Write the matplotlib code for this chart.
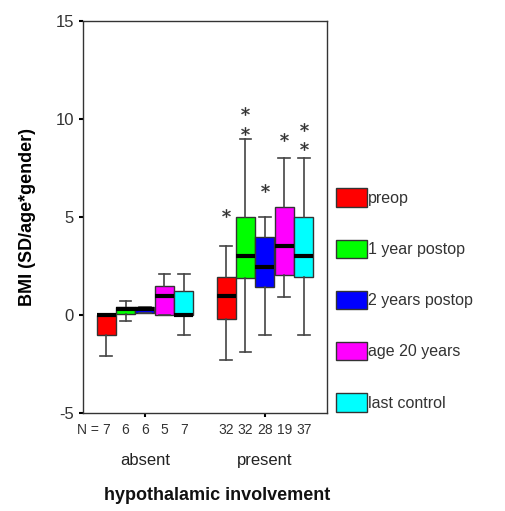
import matplotlib
matplotlib.use("Agg")
import matplotlib.pyplot as plt
from matplotlib.patches import Patch
import matplotlib.transforms as mtransforms

plt.rcParams['font.family'] = ['Liberation Sans', 'DejaVu Sans']
plt.rcParams['axes.unicode_minus'] = False

groups = ['absent', 'present']
series = ['preop', '1 year postop', '2 years postop', 'age 20 years', 'last control']
colors = ['#ff0000', '#00ff00', '#0000ff', '#ff00ff', '#00ffff']

# per series: [absent, present]
whislo = [[-2.1, -2.3], [-0.3, -1.9], [0.1, -1.05], [0.0, 0.9], [-1.05, -1.05]]
q1 = [[-1.05, -0.2], [0.05, 1.9], [0.1, 1.4], [0.0, 2.05], [0.0, 1.95]]
med = [[0.0, 0.95], [0.3, 3.0], [0.3, 2.45], [0.95, 3.5], [0.0, 3.0]]
q3 = [[0.0, 1.95], [0.4, 5.0], [0.4, 4.0], [1.45, 5.5], [1.2, 5.0]]
whishi = [[0.0, 3.5], [0.7, 9.0], [0.4, 5.0], [2.1, 8.0], [2.1, 8.0]]
outliers = [[[], [5.2]], [[], [9.4, 10.4]], [[], [6.5]], [[], [9.1]], [[], [8.6, 9.6]]]
n_counts = [[7, 32], [6, 32], [6, 28], [5, 19], [7, 37]]

fig = plt.figure(figsize=(5.06, 5.11), dpi=100)
ax = fig.add_axes([0.164, 0.192, 0.482, 0.767])

width = 0.162
offsets = [-2 * width, -width, 0, width, 2 * width]
trans = mtransforms.blended_transform_factory(ax.transData, ax.transAxes)

for s in range(len(series)):
    stats = []
    positions = []
    for g in range(len(groups)):
        stats.append(dict(whislo=whislo[s][g], q1=q1[s][g], med=med[s][g],
                          q3=q3[s][g], whishi=whishi[s][g], fliers=outliers[s][g]))
        positions.append(g + 1 + offsets[s])
    ax.bxp(stats, positions=positions, widths=width * 0.98, showfliers=True,
           patch_artist=True, capwidths=width * 0.6,
           boxprops=dict(facecolor=colors[s], edgecolor='#333333', linewidth=1.0),
           medianprops=dict(color='black', linewidth=3),
           whiskerprops=dict(color='#444444', linewidth=1.2),
           capprops=dict(color='#444444', linewidth=1.2),
           flierprops=dict(marker='$*$', markersize=6, markeredgewidth=0.3,
                           color='#333333', markerfacecolor='#333333',
                           markeredgecolor='#333333'))
    for g in range(len(groups)):
        ax.text(g + 1 + offsets[s], -0.043, str(n_counts[s][g]), transform=trans,
                ha='center', va='center', fontsize=10, color='#333333')

ax.text(1 + offsets[0] - 0.06, -0.043, 'N =', transform=trans, ha='right',
        va='center', fontsize=10, color='#333333')
for g, name in enumerate(groups):
    ax.text(g + 1, -0.122, name, transform=trans, ha='center', va='center',
            fontsize=12, color='#222222')

ax.set_xlim(0.483, 2.517)
ax.set_ylim(-5, 15)
ax.set_yticks([-5, 0, 5, 10, 15])
ax.set_xticks([1, 2])
ax.set_xticklabels([])
ax.tick_params(axis='both', length=3, width=1.5, labelsize=12, labelcolor='#333333')
for sp in ax.spines.values():
    sp.set_color('#333333')
    sp.set_linewidth(1.0)

ax.set_ylabel('BMI (SD/age*gender)', fontsize=13, fontweight='bold', labelpad=14)
fig.text(0.43, 0.03, 'hypothalamic involvement', ha='center', va='center',
         fontsize=13, fontweight='bold', color='#111111')

handles = [Patch(facecolor=c, edgecolor='#333333') for c in colors]
fig.legend(handles, series, loc='center left', bbox_to_anchor=(0.636, 0.413),
           frameon=False, fontsize=11.5, handlelength=1.9, handleheight=1.4,
           handletextpad=0.1, labelspacing=2.05, labelcolor='#333333')

fig.savefig('out.png', dpi=100)
